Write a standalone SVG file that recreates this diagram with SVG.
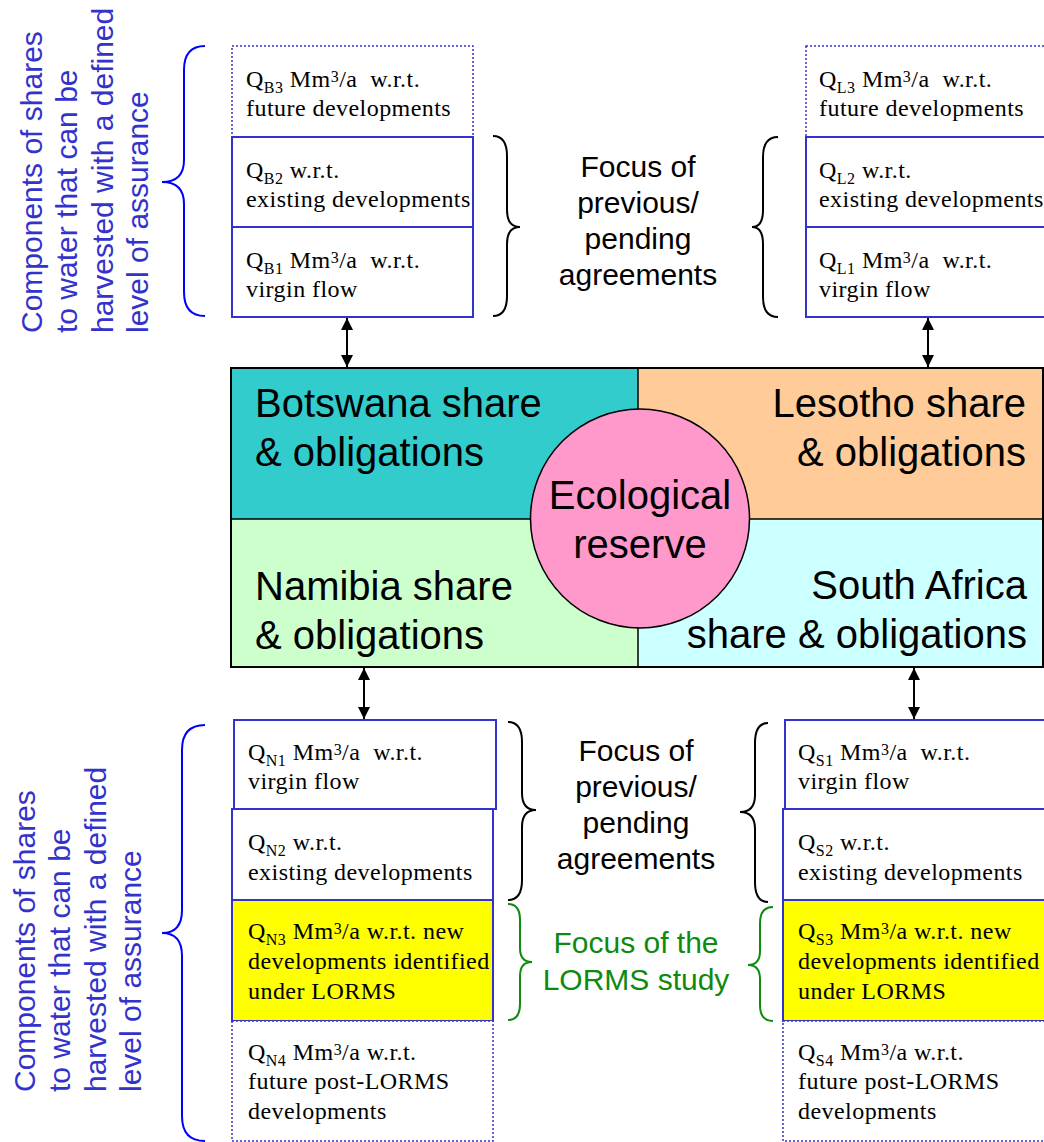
<svg xmlns="http://www.w3.org/2000/svg" width="1044" height="1142" viewBox="0 0 1044 1142">
<style>
.bt{font-family:"Liberation Serif","Times New Roman",serif;font-size:24px;letter-spacing:0.45px;fill:#000}
.sub{font-size:16px}
.sup{font-size:16px}
.solid{fill:#fff;stroke:#3333CC;stroke-width:2}
.dot{fill:#fff;stroke:#3333CC;stroke-width:1.5;stroke-dasharray:2 2}
.yel{fill:#FFFF00;stroke:#3333CC;stroke-width:2}
.big{font-family:"Liberation Sans",Arial,sans-serif;font-size:40px;fill:#000}
.foc{font-family:"Liberation Sans",Arial,sans-serif;font-size:30px;fill:#000;text-anchor:middle}
.green{fill:#0f8a0f}
.side{font-family:"Liberation Sans",Arial,sans-serif;font-size:30px;fill:#3333CC}
.brace{fill:none;stroke-width:2}
</style>
<defs>
<marker id="ah" viewBox="0 0 12 12" refX="12" refY="6" markerWidth="12" markerHeight="12" markerUnits="userSpaceOnUse" orient="auto-start-reverse"><path d="M0,0 L12,6 L0,12 z" fill="#000"/></marker>
</defs>
<rect width="1044" height="1142" fill="#fff"/>

<g id="side-labels">
<text class="side" transform="translate(42,333) rotate(-90)"><tspan x="0" y="0">Components of shares</tspan><tspan x="0" y="35.3">to water that can be</tspan><tspan x="0" y="70.6">harvested with a defined</tspan><tspan x="0" y="105.9">level of assurance</tspan></text>
<text class="side" transform="translate(35,1092) rotate(-90)"><tspan x="0" y="0">Components of shares</tspan><tspan x="0" y="35.3">to water that can be</tspan><tspan x="0" y="70.6">harvested with a defined</tspan><tspan x="0" y="105.9">level of assurance</tspan></text>
</g>

<g id="braces">
<path class="brace" stroke="#0000FF" d="M205,46 Q184,46 184,70 L184,160 Q184,182 162,182 Q184,182 184,204 L184,292 Q184,316 205,316"/>
<path class="brace" stroke="#0000FF" d="M205,725 Q182,725 182,750 L182,910 Q182,933 162,933 Q182,933 182,956 L182,1116 Q182,1141 205,1141"/>
<path class="brace" stroke="#000" d="M493,136 Q507,136 507,156 L507,210 Q507,227 520,227 Q507,227 507,244 L507,296 Q507,316 493,316"/>
<path class="brace" stroke="#000" d="M778,137 Q763,137 763,157 L763,210 Q763,227 752,227 Q763,227 763,244 L763,297 Q763,317 778,317"/>
<path class="brace" stroke="#000" d="M508,722 Q522,722 522,742 L522,793 Q522,810 536,810 Q522,810 522,827 L522,880 Q522,900 508,900"/>
<path class="brace" stroke="#000" d="M768,723 Q755,723 755,743 L755,795 Q755,812 740,812 Q755,812 755,829 L755,882 Q755,902 768,902"/>
<path class="brace" stroke="#0f8a0f" d="M508,904 Q520,904 520,920 L520,948 Q520,962 532,962 Q520,962 520,976 L520,1004 Q520,1020 508,1020"/>
<path class="brace" stroke="#0f8a0f" d="M773,907 Q760,907 760,923 L760,951 Q760,965 748,965 Q760,965 760,979 L760,1005 Q760,1021 773,1021"/>
</g>

<g id="focus-labels">
<text class="foc"><tspan x="638" y="177">Focus of</tspan><tspan x="638" y="213">previous/</tspan><tspan x="638" y="249">pending</tspan><tspan x="638" y="285">agreements</tspan></text>
<text class="foc"><tspan x="636" y="761">Focus of</tspan><tspan x="636" y="797">previous/</tspan><tspan x="636" y="833">pending</tspan><tspan x="636" y="869">agreements</tspan></text>
<text class="foc green"><tspan x="636" y="953">Focus of the</tspan><tspan x="636" y="990">LORMS study</tspan></text>
</g>

<g id="shares-grid">
<g id="botswana"><rect x="231" y="368" width="407" height="151" fill="#33CCCC"/><text class="big"><tspan x="255" y="417">Botswana share</tspan><tspan x="255" y="466">&amp; obligations</tspan></text></g>
<g id="lesotho"><rect x="638" y="368" width="405" height="151" fill="#FFCC99"/><text class="big" text-anchor="end"><tspan x="1026" y="417">Lesotho share</tspan><tspan x="1026" y="466">&amp; obligations</tspan></text></g>
<g id="namibia"><rect x="231" y="519" width="407" height="148" fill="#CCFFCC"/><text class="big"><tspan x="255" y="600">Namibia share</tspan><tspan x="255" y="649">&amp; obligations</tspan></text></g>
<g id="southafrica"><rect x="638" y="519" width="405" height="148" fill="#CCFFFF"/><text class="big" text-anchor="end"><tspan x="1027" y="599">South Africa</tspan><tspan x="1027" y="648">share &amp; obligations</tspan></text></g>
<line x1="231" y1="519" x2="1043" y2="519" stroke="#000" stroke-width="1.5"/>
<line x1="638" y1="368" x2="638" y2="667" stroke="#000" stroke-width="1.5"/>
<rect x="231" y="368" width="812" height="299" fill="none" stroke="#000" stroke-width="2"/>
<g id="ecological"><circle cx="640" cy="518.5" r="109.5" fill="#FF99CC" stroke="#000" stroke-width="1.5"/><text class="big" text-anchor="middle"><tspan x="640" y="509">Ecological</tspan><tspan x="640" y="558">reserve</tspan></text></g>
</g>

<g id="botswana-stack">
<g id="qb3"><rect class="dot" x="232" y="46" width="241" height="91"/>
<text class="bt" x="246" y="87" xml:space="preserve">Q<tspan class="sub" dy="6">B3</tspan><tspan dy="-6"> Mm</tspan><tspan class="sup" dy="-5">3</tspan><tspan dy="5">/a  w.r.t.</tspan></text>
<text class="bt" x="246" y="116">future developments</text></g>
<g id="qb2"><rect class="solid" x="232" y="137" width="241" height="90"/>
<text class="bt" x="246" y="178" xml:space="preserve">Q<tspan class="sub" dy="6">B2</tspan><tspan dy="-6"> w.r.t.</tspan></text>
<text class="bt" x="246" y="207">existing developments</text></g>
<g id="qb1"><rect class="solid" x="232" y="227" width="241" height="90"/>
<text class="bt" x="246" y="268" xml:space="preserve">Q<tspan class="sub" dy="6">B1</tspan><tspan dy="-6"> Mm</tspan><tspan class="sup" dy="-5">3</tspan><tspan dy="5">/a  w.r.t.</tspan></text>
<text class="bt" x="246" y="297">virgin flow</text></g>
</g>

<g id="lesotho-stack">
<g id="ql3"><rect class="dot" x="806" y="46" width="250" height="91"/>
<text class="bt" x="819" y="87" xml:space="preserve">Q<tspan class="sub" dy="6">L3</tspan><tspan dy="-6"> Mm</tspan><tspan class="sup" dy="-5">3</tspan><tspan dy="5">/a  w.r.t.</tspan></text>
<text class="bt" x="819" y="116">future developments</text></g>
<g id="ql2"><rect class="solid" x="806" y="137" width="250" height="90"/>
<text class="bt" x="819" y="178" xml:space="preserve">Q<tspan class="sub" dy="6">L2</tspan><tspan dy="-6"> w.r.t.</tspan></text>
<text class="bt" x="819" y="207">existing developments</text></g>
<g id="ql1"><rect class="solid" x="806" y="227" width="250" height="90"/>
<text class="bt" x="819" y="268" xml:space="preserve">Q<tspan class="sub" dy="6">L1</tspan><tspan dy="-6"> Mm</tspan><tspan class="sup" dy="-5">3</tspan><tspan dy="5">/a  w.r.t.</tspan></text>
<text class="bt" x="819" y="297">virgin flow</text></g>
</g>

<g id="namibia-stack">
<g id="qn1"><rect class="solid" x="234" y="720" width="262" height="89"/>
<text class="bt" x="248" y="760" xml:space="preserve">Q<tspan class="sub" dy="6">N1</tspan><tspan dy="-6"> Mm</tspan><tspan class="sup" dy="-5">3</tspan><tspan dy="5">/a  w.r.t.</tspan></text>
<text class="bt" x="248" y="789">virgin flow</text></g>
<g id="qn2"><rect class="solid" x="232" y="809" width="261" height="91"/>
<text class="bt" x="248" y="850" xml:space="preserve">Q<tspan class="sub" dy="6">N2</tspan><tspan dy="-6"> w.r.t.</tspan></text>
<text class="bt" x="248" y="880">existing developments</text></g>
<g id="qn3"><rect class="yel" x="232" y="900" width="261" height="121"/>
<text class="bt" x="248" y="939" xml:space="preserve">Q<tspan class="sub" dy="6">N3</tspan><tspan dy="-6"> Mm</tspan><tspan class="sup" dy="-5">3</tspan><tspan dy="5">/a w.r.t. new</tspan></text>
<text class="bt" x="248" y="969">developments identified</text>
<text class="bt" x="248" y="999">under LORMS</text></g>
<g id="qn4"><rect class="dot" x="232" y="1021" width="261" height="120"/>
<text class="bt" x="248" y="1060" xml:space="preserve">Q<tspan class="sub" dy="6">N4</tspan><tspan dy="-6"> Mm</tspan><tspan class="sup" dy="-5">3</tspan><tspan dy="5">/a w.r.t.</tspan></text>
<text class="bt" x="248" y="1089">future post-LORMS</text>
<text class="bt" x="248" y="1119">developments</text></g>
</g>

<g id="southafrica-stack">
<g id="qs1"><rect class="solid" x="785" y="720" width="270" height="89"/>
<text class="bt" x="798" y="760" xml:space="preserve">Q<tspan class="sub" dy="6">S1</tspan><tspan dy="-6"> Mm</tspan><tspan class="sup" dy="-5">3</tspan><tspan dy="5">/a  w.r.t.</tspan></text>
<text class="bt" x="798" y="789">virgin flow</text></g>
<g id="qs2"><rect class="solid" x="783" y="809" width="272" height="91"/>
<text class="bt" x="798" y="850" xml:space="preserve">Q<tspan class="sub" dy="6">S2</tspan><tspan dy="-6"> w.r.t.</tspan></text>
<text class="bt" x="798" y="880">existing developments</text></g>
<g id="qs3"><rect class="yel" x="783" y="900" width="272" height="121"/>
<text class="bt" x="798" y="939" xml:space="preserve">Q<tspan class="sub" dy="6">S3</tspan><tspan dy="-6"> Mm</tspan><tspan class="sup" dy="-5">3</tspan><tspan dy="5">/a w.r.t. new</tspan></text>
<text class="bt" x="798" y="969">developments identified</text>
<text class="bt" x="798" y="999">under LORMS</text></g>
<g id="qs4"><rect class="dot" x="783" y="1021" width="272" height="120"/>
<text class="bt" x="798" y="1060" xml:space="preserve">Q<tspan class="sub" dy="6">S4</tspan><tspan dy="-6"> Mm</tspan><tspan class="sup" dy="-5">3</tspan><tspan dy="5">/a w.r.t.</tspan></text>
<text class="bt" x="798" y="1089">future post-LORMS</text>
<text class="bt" x="798" y="1119">developments</text></g>
</g>

<g id="connectors" stroke="#000" stroke-width="2">
<line x1="347" y1="318" x2="347" y2="367" marker-start="url(#ah)" marker-end="url(#ah)"/>
<line x1="928" y1="318" x2="928" y2="367" marker-start="url(#ah)" marker-end="url(#ah)"/>
<line x1="364" y1="668" x2="364" y2="719" marker-start="url(#ah)" marker-end="url(#ah)"/>
<line x1="914" y1="668" x2="914" y2="719" marker-start="url(#ah)" marker-end="url(#ah)"/>
</g>
</svg>
